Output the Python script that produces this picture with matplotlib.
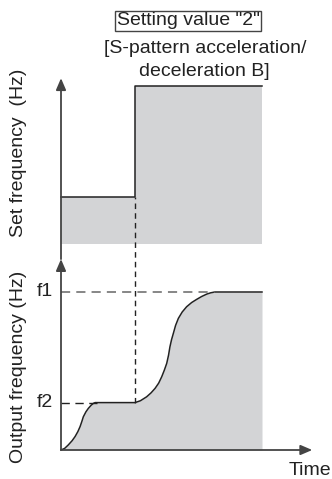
import numpy as np
import matplotlib.pyplot as plt

plt.rcParams['font.family'] = ['Liberation Sans', 'DejaVu Sans']

# Values (time in arbitrary units, frequency in Hz-like units)
f1 = 60
f2 = 18
t_step = 3.68     # time when set frequency jumps from f2 to f1
t_end = 10.0

# Set frequency (upper panel)
t_set = np.array([0.0, t_step, t_step, t_end])
f_set = np.array([f2, f2, f1, f1])

# Output frequency (lower panel), S-pattern acceleration B
t_out = np.array([0.0, 0.18, 0.36, 0.55, 0.70, 0.84, 0.95, 1.04, 1.11, 1.24, 1.36,
                  1.50, 1.61, 1.70, 1.78, 3.68, 3.95, 4.26, 4.48, 4.68, 4.86,
                  5.01, 5.14, 5.26, 5.35, 5.42, 5.50, 5.59, 5.70, 5.84, 6.03,
                  6.25, 6.50, 6.75, 7.00, 7.25, 7.45, 7.66, t_end])
f_out = np.array([0.0, 0.6, 1.9, 3.5, 5.1, 7.0, 8.9, 10.9, 12.6, 14.5, 15.8,
                  17.0, 17.7, 18.0, 18.0, 18.0, 18.7, 20.2, 21.7, 23.4, 25.4,
                  27.8, 30.3, 32.9, 36.0, 39.2, 41.9, 44.3, 47.3, 50.0, 52.4,
                  54.4, 56.0, 57.2, 58.3, 59.2, 59.7, 60.0, 60.0])

panel_gap = 78.2      # vertical offset of the set-frequency panel
out_arrow_top = 72.5
set_arrow_top = 63.0
time_arrow_end = 12.5

gray = '#d3d4d6'
ink = '#222222'
axis_col = '#444444'

fig = plt.figure(figsize=(3.32, 4.79), dpi=100)
ax = fig.add_axes([0, 0, 1, 1])
px_x = 20.1
px_y = 158 / 60
ax.set_xlim(-61 / px_x, (332 - 61) / px_x)
ax.set_ylim(-29 / px_y, 450 / px_y)
ax.axis('off')

# upper panel
ax.fill_between(t_set, panel_gap, f_set + panel_gap, color=gray, lw=0)
ax.plot(t_set, f_set + panel_gap, color=ink, lw=1.1)

# lower panel
ax.fill_between(t_out, 0, f_out, color=gray, lw=0)
ax.plot(t_out, f_out, color=ink, lw=1.1)

# reference dashed lines
ax.plot([0, 7.66], [f1, f1], color='#666666', lw=1.1, ls=(0, (6, 4)))
ax.plot([0, 1.78], [f2, f2], color=ink, lw=1.0, ls=(0, (6, 4)))
ax.plot([t_step, t_step], [f2, f2 + panel_gap], color=ink, lw=1.0, ls=(0, (4, 3)))

# axes with arrows
arrow = dict(arrowstyle='-|>,head_length=0.7,head_width=0.3', color=axis_col,
             lw=1.3, shrinkA=0, shrinkB=0)
ax.annotate('', xy=(0, out_arrow_top), xytext=(0, 0), arrowprops=arrow)
ax.annotate('', xy=(0, panel_gap + set_arrow_top), xytext=(0, out_arrow_top),
            arrowprops=arrow)
ax.annotate('', xy=(time_arrow_end, 0), xytext=(0, 0), arrowprops=arrow)

# labels
fs = 14
ax.text(-0.4, f1, 'f1', ha='right', va='center', fontsize=fs, color=ink)
ax.text(-0.4, f2, 'f2', ha='right', va='center', fontsize=fs, color=ink)
ax.text(12.4, -7.6, 'Time', ha='center', va='center', fontsize=fs, color=ink)
ax.text(-2.1, 113, 'Set frequency  (Hz)', rotation=90, ha='center', va='center',
        fontsize=fs, color=ink)
ax.text(-2.1, 31.5, 'Output frequency (Hz)', rotation=90, ha='center', va='center',
        fontsize=fs, color=ink)

ax.text(6.32, 163, 'Setting value "2"', ha='center', va='center', fontsize=fs,
        color=ink, bbox=dict(boxstyle='square,pad=0.08', fc='white',
                             ec='#444444', lw=1.0))
ax.text(7.15, 152.6, '[S-pattern acceleration/', ha='center', va='center',
        fontsize=fs, color=ink)
ax.text(7.15, 143.9, 'deceleration B]', ha='center', va='center',
        fontsize=fs, color=ink)

fig.savefig('out.png', dpi=100)
